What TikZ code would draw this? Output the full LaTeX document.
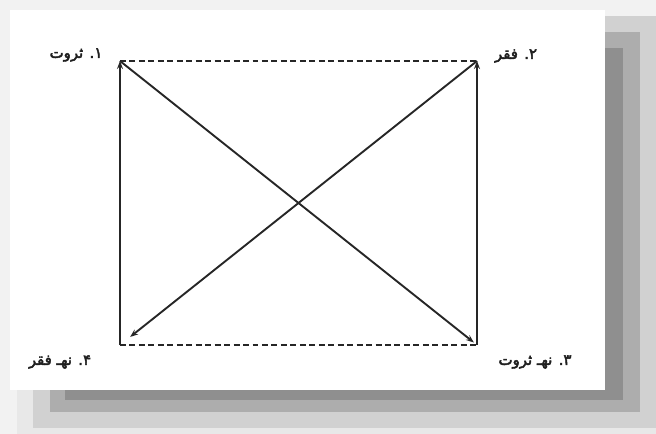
\documentclass[tikz,border=0pt]{standalone}
\usepackage{fontspec}
\newfontfamily\arabicfont[Script=Arabic,FakeBold=3]{DejaVu Sans}
\TeXXeTstate=1
\usetikzlibrary{arrows.meta}
\definecolor{ink}{HTML}{262626}
\tikzset{
  lbl/.style={font=\arabicfont\fontsize{15}{17}\selectfont, text=black!88, inner sep=0pt},
  side/.style={draw=ink, line width=1.9pt},
  dsh/.style={draw=ink, line width=1.9pt, dash pattern=on 6pt off 3.5pt},
  arr/.style={-{Stealth[length=8pt,width=6pt]}},
}
\begin{document}
\begin{tikzpicture}[x=1bp,y=-1bp]
\useasboundingbox (0,0) rectangle (656,434);
% background and stepped shadow
\fill[black!5] (0,0) rectangle (656,434);
\fill[black!9] (17,16) rectangle (656,434);
\fill[black!18] (33,16) rectangle (656,428);
\fill[black!32] (50,32) rectangle (640,412);
\fill[black!44] (65,48) rectangle (623,400);
\fill[white] (10,10) rectangle (605,390);
% corners
\coordinate (tl) at (120,61);
\coordinate (tr) at (477,61);
\coordinate (bl) at (120,345);
\coordinate (br) at (477,345);
% labels
\node[lbl] (l1) at (76,55) {\beginR ۱. ثروت\endR};
\node[lbl] (l2) at (516,56) {\beginR ۲. فقر\endR};
\node[lbl] (l3) at (535,362) {\beginR ۳. نهـ ثروت\endR};
\node[lbl] (l4) at (60,362) {\beginR ۴. نهـ فقر\endR};
% edges
\draw[dsh] (tl) -- (tr);
\draw[dsh] (bl) -- (br);
\draw[side,arr] (bl) -- (tl);
\draw[side,arr] (br) -- (tr);
\draw[side,arr,shorten >=4pt] (tl) -- (br);
\draw[side,arr,shorten >=13pt] (tr) -- (bl);
\end{tikzpicture}
\end{document}
